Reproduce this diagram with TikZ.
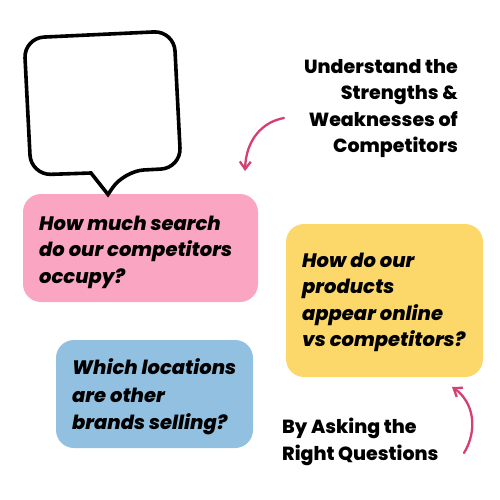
\documentclass[tikz,border=0pt]{standalone}
\usepackage{fontspec}
\setmainfont{Poppins}
\newfontfamily\heavy{Poppins}[UprightFont={* ExtraBold}, ItalicFont={* ExtraBold Italic}, BoldFont={* ExtraBold}, BoldItalicFont={* ExtraBold Italic}]
\usetikzlibrary{arrows.meta}
\definecolor{pinkbox}{RGB}{250,166,194}
\definecolor{yellowbox}{RGB}{252,216,106}
\definecolor{bluebox}{RGB}{146,192,224}
\definecolor{arrowpink}{RGB}{214,62,116}
\tikzset{
  qbox/.style={rounded corners=18pt, draw=none},
  qtext/.style={anchor=north west, align=left, inner sep=0pt,
    font=\heavy\fontsize{19.5}{26.5}\selectfont\itshape},
  side/.style={inner sep=0pt, font=\heavy\fontsize{19}{26.5}\selectfont},
  curvearrow/.style={draw=arrowpink, line width=2.3pt, line cap=round,
    -{Straight Barb[length=7.5pt,width=11pt,line width=2.3pt]}}
}
\begin{document}
\begin{tikzpicture}[x=1pt,y=-1pt]
\useasboundingbox (0,0) rectangle (500,500);
% boxes
\fill[pinkbox, qbox] (23,194) rectangle (258,302);
\fill[yellowbox, qbox] (286,224) rectangle (483,377);
\fill[bluebox, qbox] (56,340) rectangle (253,448);
% speech bubble
\coordinate (tl) at (24,38);
\coordinate (tr) at (174,31);
\coordinate (br) at (181,168);
\coordinate (bl) at (31,175);
\coordinate (tailr) at (124,171);
\coordinate (tip) at (108,194.5);
\coordinate (taill) at (91,173);
\draw[line width=3.6pt, line join=miter, fill=white]
  (taill) [rounded corners=20pt] -- (bl) -- (tl) -- (tr) -- (br) -- (tailr) [sharp corners] -- (tip) -- (taill) -- cycle;
\node[qtext] (q1) at (39,215.5) {How much search\\do our competitors\\occupy?};
\node[qtext] (q2) at (302,252.5) {How do our\\products\\appear online\\vs competitors?};
\node[qtext, font=\heavy\fontsize{19.5}{27.5}\selectfont\itshape] (q3) at (72,358.5) {Which locations\\are other\\brands selling?};
% side texts
\node[side, anchor=north east, align=right] (t1) at (458,59) {Understand the\\Strengths \&\\Weaknesses of\\Competitors};
\node[side, anchor=north west, align=left] (t2) at (282,418) {By Asking the\\Right Questions};
\coordinate (a1s) at (284,118);
\coordinate (a1e) at (245,171);
\coordinate (a2s) at (464,453);
\coordinate (a2e) at (452,387);
\draw[curvearrow] (a1s) .. controls (262,122) and (246,140) .. (a1e);
\draw[curvearrow] (a2s) .. controls (478,430) and (474,402) .. (a2e);
\end{tikzpicture}
\end{document}
